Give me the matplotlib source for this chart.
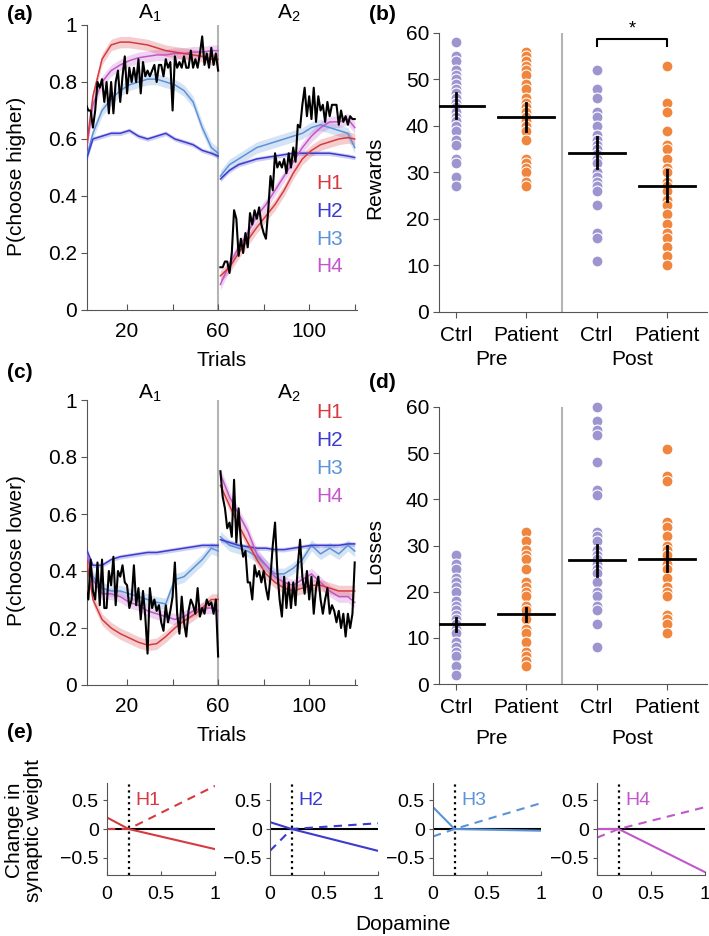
import numpy as np
import matplotlib
matplotlib.use("Agg")
import matplotlib.pyplot as plt

plt.rcParams['font.family'] = ['Liberation Sans', 'DejaVu Sans']
plt.rcParams['mathtext.fontset'] = 'custom'
plt.rcParams['mathtext.rm'] = 'Liberation Sans'
plt.rcParams['mathtext.it'] = 'Liberation Sans'

W, H = 709, 936

# ---- model / data curves (panels a, c) ----
hyp_names = ["H1", "H2", "H3", "H4"]
hyp_colors = ["#d63a40", "#3b3bcf", "#5b93d8", "#c257c9"]
hyp_sem = [0.02, 0.008, 0.02, 0.02]

trials_pre = [1, 5, 9, 13, 17, 21, 25, 29, 33, 37, 41, 45, 49, 53, 57, 60]
trials_post = [61, 65, 69, 73, 77, 81, 85, 89, 93, 97, 101, 105, 109, 113, 117, 120]

# P(choose higher)
higher_pre = [
    [0.50, 0.75, 0.88, 0.93, 0.94, 0.94, 0.935, 0.93, 0.92, 0.91, 0.905, 0.90, 0.895, 0.89, 0.88, 0.88],
    [0.50, 0.60, 0.61, 0.62, 0.62, 0.63, 0.61, 0.60, 0.61, 0.62, 0.60, 0.59, 0.58, 0.56, 0.55, 0.54],
    [0.50, 0.62, 0.70, 0.74, 0.77, 0.79, 0.80, 0.81, 0.81, 0.80, 0.79, 0.77, 0.73, 0.64, 0.57, 0.55],
    [0.50, 0.72, 0.80, 0.84, 0.86, 0.875, 0.885, 0.89, 0.895, 0.895, 0.90, 0.90, 0.905, 0.905, 0.91, 0.91],
]
higher_post = [
    [0.12, 0.15, 0.20, 0.245, 0.29, 0.33, 0.37, 0.42, 0.48, 0.53, 0.56, 0.58, 0.59, 0.60, 0.605, 0.60],
    [0.46, 0.49, 0.51, 0.52, 0.53, 0.535, 0.54, 0.545, 0.55, 0.55, 0.55, 0.55, 0.55, 0.545, 0.54, 0.535],
    [0.47, 0.51, 0.53, 0.55, 0.57, 0.58, 0.59, 0.60, 0.61, 0.62, 0.64, 0.65, 0.64, 0.63, 0.62, 0.57],
    [0.09, 0.16, 0.22, 0.27, 0.33, 0.37, 0.42, 0.47, 0.52, 0.57, 0.61, 0.64, 0.66, 0.66, 0.67, 0.64],
]
observed_higher_pre = [
    0.60, 0.72, 0.70, 0.70, 0.64, 0.70, 0.80, 0.78, 0.81, 0.73,
    0.80, 0.69, 0.80, 0.69, 0.80, 0.84, 0.73, 0.82, 0.89, 0.76,
    0.85, 0.80, 0.85, 0.80, 0.88, 0.76, 0.87, 0.82, 0.84, 0.82,
    0.84, 0.86, 0.80, 0.86, 0.86, 0.82, 0.88, 0.85, 0.87, 0.70,
    0.89, 0.85, 0.87, 0.85, 0.89, 0.85, 0.85, 0.91, 0.85, 0.88,
    0.85, 0.90, 0.96, 0.86, 0.90, 0.85, 0.92, 0.86, 0.90, 0.84]
observed_higher_post = [
    0.15, 0.15, 0.17, 0.17, 0.13, 0.20, 0.35, 0.32, 0.19, 0.25,
    0.20, 0.27, 0.22, 0.34, 0.30, 0.35, 0.32, 0.36, 0.30, 0.27,
    0.25, 0.35, 0.47, 0.42, 0.55, 0.50, 0.52, 0.50, 0.53, 0.48,
    0.55, 0.50, 0.57, 0.52, 0.65, 0.64, 0.72, 0.78, 0.68, 0.75,
    0.67, 0.78, 0.66, 0.75, 0.70, 0.72, 0.66, 0.73, 0.68, 0.72,
    0.72, 0.72, 0.65, 0.70, 0.66, 0.68, 0.65, 0.68, 0.67, 0.67]

# P(choose lower)
lower_pre = [
    [0.50, 0.30, 0.23, 0.20, 0.18, 0.165, 0.15, 0.14, 0.145, 0.17, 0.20, 0.225, 0.245, 0.27, 0.30, 0.30],
    [0.50, 0.42, 0.42, 0.44, 0.45, 0.455, 0.46, 0.465, 0.465, 0.47, 0.475, 0.48, 0.485, 0.49, 0.49, 0.49],
    [0.50, 0.38, 0.34, 0.33, 0.33, 0.32, 0.31, 0.30, 0.29, 0.285, 0.37, 0.38, 0.41, 0.44, 0.48, 0.47],
    [0.50, 0.37, 0.32, 0.32, 0.31, 0.29, 0.28, 0.26, 0.25, 0.24, 0.23, 0.24, 0.26, 0.27, 0.27, 0.26],
]
lower_post = [
    [0.70, 0.63, 0.56, 0.50, 0.44, 0.39, 0.36, 0.34, 0.33, 0.34, 0.35, 0.35, 0.34, 0.33, 0.33, 0.33],
    [0.51, 0.50, 0.49, 0.485, 0.48, 0.48, 0.475, 0.475, 0.48, 0.485, 0.49, 0.49, 0.49, 0.49, 0.495, 0.495],
    [0.52, 0.49, 0.48, 0.47, 0.45, 0.42, 0.39, 0.39, 0.41, 0.44, 0.49, 0.46, 0.48, 0.46, 0.49, 0.47],
    [0.74, 0.66, 0.60, 0.54, 0.46, 0.42, 0.38, 0.36, 0.35, 0.37, 0.39, 0.36, 0.33, 0.31, 0.31, 0.29],
]
observed_lower_pre = [
    0.38, 0.33, 0.30, 0.44, 0.33, 0.30, 0.43, 0.28, 0.44, 0.27,
    0.27, 0.40, 0.35, 0.45, 0.28, 0.40, 0.38, 0.42, 0.36, 0.35,
    0.27, 0.30, 0.42, 0.28, 0.34, 0.23, 0.33, 0.24, 0.11, 0.34,
    0.27, 0.30, 0.26, 0.28, 0.22, 0.19, 0.28, 0.22, 0.26, 0.31,
    0.43, 0.25, 0.18, 0.31, 0.22, 0.17, 0.26, 0.30, 0.28, 0.25,
    0.34, 0.24, 0.27, 0.25, 0.30, 0.28, 0.29, 0.25, 0.30, 0.10]
observed_lower_post = [
    0.75, 0.66, 0.62, 0.55, 0.57, 0.52, 0.72, 0.50, 0.62, 0.50,
    0.45, 0.47, 0.36, 0.36, 0.30, 0.42, 0.38, 0.40, 0.36, 0.40,
    0.34, 0.30, 0.38, 0.49, 0.57, 0.40, 0.30, 0.24, 0.38, 0.27,
    0.36, 0.27, 0.36, 0.28, 0.42, 0.51, 0.38, 0.32, 0.40, 0.30,
    0.38, 0.25, 0.34, 0.38, 0.30, 0.25, 0.30, 0.34, 0.25, 0.28,
    0.26, 0.22, 0.26, 0.20, 0.25, 0.17, 0.25, 0.20, 0.25, 0.43]

# ---- individual subjects (panels b, d) ----
group_labels = ["Ctrl", "Patient", "Ctrl", "Patient"]
phase_labels = ["Pre", "Post"]
group_colors = ["#9d95cf", "#f0853d", "#9d95cf", "#f0853d"]

rewards = [
    [58, 55, 54, 52, 51, 50, 49, 48, 47, 46, 45, 44, 43, 42, 41, 40, 39, 37, 36, 33, 32, 29, 27],
    [56, 55, 54, 53, 52, 51, 49, 48, 46, 45, 44, 43, 42, 41, 40, 39, 37, 33, 32, 31, 30, 28, 27],
    [52, 48, 46, 43, 42, 40, 38, 37, 36, 35, 34, 33, 32, 30, 29, 28, 27, 26, 23, 17, 16, 11],
    [53, 45, 43, 39, 36, 35, 33, 31, 30, 28, 27, 26, 24, 23, 21, 19, 17, 16, 14, 12, 10],
]
rewards_mean = [44.4, 42.0, 34.3, 27.2]
rewards_sem = [2.6, 3.0, 3.3, 3.4]

losses = [
    [28, 26, 25, 23, 22, 21, 20, 18, 17, 16, 15, 14, 13, 12, 11, 9, 8, 7, 6, 4, 2],
    [33, 31, 29, 28, 27, 25, 22, 21, 20, 19, 17, 16, 14, 12, 11, 9, 7, 6, 5, 4],
    [60, 57, 55, 54, 48, 42, 41, 33, 32, 31, 29, 28, 27, 26, 25, 24, 22, 20, 19, 17, 16, 13, 8],
    [51, 45, 44, 35, 34, 32, 30, 29, 28, 26, 25, 23, 21, 20, 19, 15, 14, 13, 11],
]
losses_mean = [12.9, 15.1, 26.8, 27.1]
losses_sem = [1.35, 1.45, 3.4, 2.7]

# ---- plasticity rules (panel e) ----
dopamine = [0, 0.2, 1]
weight_solid = [[0.20, 0, -0.35], [0.12, 0, -0.38], [0.38, 0, -0.03], [0, 0, -0.75]]
weight_dashed = [[0, 0, 0.75], [-0.38, 0, 0.10], [-0.13, 0, 0.45], [-0.15, 0, 0.38]]

FS = 15
SPINE = "#555555"
SEP = "#b4b4b4"


def px_axes(fig, left, top, right, bottom):
    return fig.add_axes([left / W, 1 - bottom / H, (right - left) / W, (bottom - top) / H])


def style_axes(ax):
    for side in ["top", "right"]:
        ax.spines[side].set_visible(False)
    for side in ["left", "bottom"]:
        ax.spines[side].set_color(SPINE)
    ax.tick_params(colors="black", labelsize=FS)
    ax.tick_params(axis="both", color=SPINE)


def trial_panel(ax, pre, post, obs_pre, obs_post, ylabel, label_y, title_y):
    style_axes(ax)
    ax.axvline(60, color=SEP, lw=1.5, zorder=1)
    for k in [2, 1, 3, 0]:
        for t, m in [(trials_pre, pre[k]), (trials_post, post[k])]:
            m = np.array(m)
            ax.fill_between(t, m - hyp_sem[k], m + hyp_sem[k], color=hyp_colors[k],
                            alpha=0.25, lw=0, zorder=2)
            ax.plot(t, m, color=hyp_colors[k], lw=1.1, zorder=3)
    ax.plot(range(1, 61), obs_pre, color="black", lw=1.5, zorder=4)
    ax.plot(range(61, 121), obs_post, color="black", lw=1.5, zorder=4)
    ax.set_xlim(2.4, 121)
    ax.set_ylim(0, 1)
    ax.set_xticks([20, 40, 60, 80, 100, 120])
    ax.set_xticklabels(["20", "", "60", "", "100", ""])
    ax.set_yticks([0, 0.2, 0.4, 0.6, 0.8, 1])
    ax.set_yticklabels(["0", "0.2", "0.4", "0.6", "0.8", "1"])
    ax.tick_params(axis="x", direction="in", length=4, pad=9)
    ax.tick_params(axis="y", direction="out", length=4, pad=3)
    ax.set_xlabel("Trials", fontsize=FS, labelpad=7)
    ax.set_ylabel(ylabel, fontsize=FS)
    ax.yaxis.set_label_coords(-0.225, 0.47)
    ax.text(30, title_y, r"A$_1$", fontsize=FS, ha="center", va="center",
            transform=ax.get_xaxis_transform(), clip_on=False)
    ax.text(91, title_y, r"A$_2$", fontsize=FS, ha="center", va="center",
            transform=ax.get_xaxis_transform(), clip_on=False)
    for k in range(4):
        ax.text(103, label_y - 0.098 * k, hyp_names[k], color=hyp_colors[k],
                fontsize=FS, va="center", ha="left")


def subject_panel(ax, values, means, sems, ylabel):
    style_axes(ax)
    ax.axvline(2.5, color=SEP, lw=1.5, zorder=1)
    for i in range(4):
        ax.scatter([i + 1] * len(values[i]), values[i], s=62, color=group_colors[i],
                   edgecolor="white", linewidth=0.8, zorder=2, clip_on=False)
        ax.plot([i + 1 - 0.4, i + 1 + 0.4], [means[i], means[i]], color="black", lw=2, zorder=3)
        ax.plot([i + 1, i + 1], [means[i] - sems[i], means[i] + sems[i]], color="black",
                lw=2, zorder=3)
    ax.set_xlim(0.757, 4.57)
    ax.set_ylim(0, 60)
    ax.set_yticks(range(0, 61, 10))
    ax.set_xticks([1, 2, 3, 4])
    ax.set_xticklabels(group_labels)
    ax.tick_params(axis="x", direction="out", length=4, pad=6)
    ax.tick_params(axis="y", direction="out", length=4, pad=3)
    ax.set_ylabel(ylabel, fontsize=FS)
    ax.yaxis.set_label_coords(-0.205, 0.48)


fig = plt.figure(figsize=(W / 100, H / 100), dpi=100)

# (a)
ax_a = px_axes(fig, 87, 25, 357, 310)
trial_panel(ax_a, higher_pre, higher_post, observed_higher_pre, observed_higher_post,
            "P(choose higher)", 0.445, 1.040)

# (b)
ax_b = px_axes(fig, 439, 33, 707, 312)
subject_panel(ax_b, rewards, rewards_mean, rewards_sem, "Rewards")
ax_b.plot([3, 3, 4, 4], [57.2, 58.8, 58.8, 57.2], color="black", lw=1.5, clip_on=False)
ax_b.text(3.5, 59.0, "*", fontsize=FS - 2, ha="center", va="bottom")
for x, lab in zip([1.5, 3.5], phase_labels):
    ax_b.text(x, -0.172, lab, fontsize=FS, ha="center", va="center",
              transform=ax_b.get_xaxis_transform())

# (c)
ax_c = px_axes(fig, 87, 400, 357, 685)
trial_panel(ax_c, lower_pre, lower_post, observed_lower_pre, observed_lower_post,
            "P(choose lower)", 0.955, 1.025)

# (d)
ax_d = px_axes(fig, 439, 407, 707, 684)
subject_panel(ax_d, losses, losses_mean, losses_sem, "Losses")
for x, lab in zip([1.5, 3.5], phase_labels):
    ax_d.text(x, -0.195, lab, fontsize=FS, ha="center", va="center",
              transform=ax_d.get_xaxis_transform())

# (e)
lefts = [107, 270, 433, 597]
for k in range(4):
    ax = px_axes(fig, lefts[k], 783, lefts[k] + 108, 875)
    style_axes(ax)
    ax.axhline(0, color="black", lw=1.5, zorder=1)
    ax.axvline(0.2, color="black", lw=1.6, ls=":", zorder=1)
    ax.plot(dopamine, weight_solid[k], color=hyp_colors[k], lw=1.5, zorder=2)
    ax.plot(dopamine, weight_dashed[k], color=hyp_colors[k], lw=1.5, ls="--",
            dashes=(4, 3), zorder=2)
    ax.text(0.26, 0.5, hyp_names[k], color=hyp_colors[k], fontsize=FS - 1, va="center")
    ax.set_xlim(0, 1)
    ax.set_ylim(-0.8, 0.8)
    ax.set_xticks([0, 0.5, 1])
    ax.set_xticklabels(["0", "0.5", "1"])
    ax.set_yticks([-0.5, 0, 0.5])
    ax.set_yticklabels(["\u22120.5", "0", "0.5"])
    ax.tick_params(labelsize=FS - 1)
    ax.tick_params(axis="x", direction="in", length=3, pad=8)
    ax.tick_params(axis="y", direction="out", length=3, pad=3)

fig.text(24 / W, 1 - 830 / H, "Change in\nsynaptic weight", fontsize=FS, rotation=90,
         ha="center", va="center", linespacing=1.0)
fig.text(403 / W, 1 - 924 / H, "Dopamine", fontsize=FS, ha="center", va="center")

# panel letters
for x, y, lab in [(20, 15, "(a)"), (382, 15, "(b)"), (20, 373, "(c)"),
                  (382, 383, "(d)"), (20, 733, "(e)")]:
    fig.text(x / W, 1 - y / H, lab, fontsize=FS, fontweight="bold", ha="center", va="center")

fig.savefig("out.png", dpi=100)
